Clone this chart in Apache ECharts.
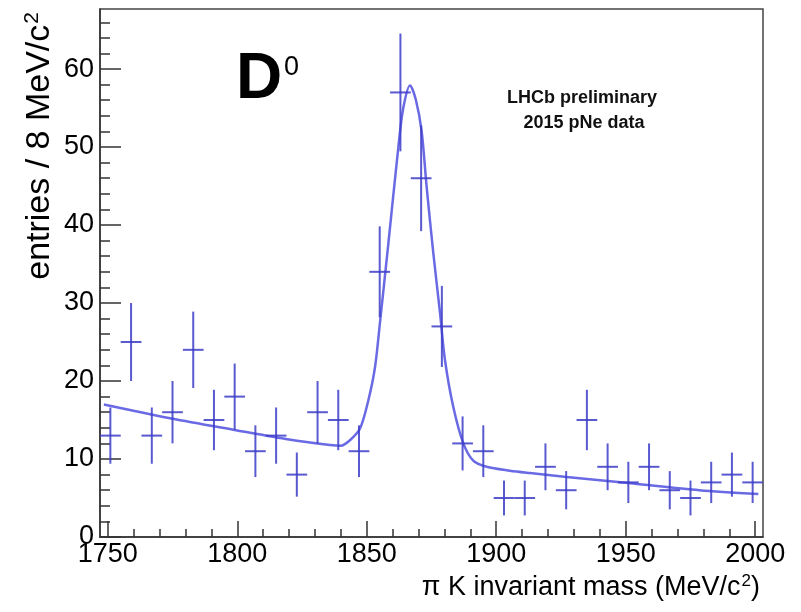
<!DOCTYPE html>
<html>
<head>
<meta charset="utf-8">
<script src="https://cdn.jsdelivr.net/npm/echarts@6/dist/echarts.min.js"></script>
<style>
  html, body { margin: 0; padding: 0; background: #fff; }
  #main { width: 801px; height: 612px; }
</style>
</head>
<body>
<div id="main"></div>
<script>
// bin centres (MeV/c2), 8 MeV wide bins
const binCenters = [1751, 1759, 1767, 1775, 1783, 1791, 1799, 1807, 1815, 1823, 1831, 1839,
  1847, 1855, 1863, 1871, 1879, 1887, 1895, 1903, 1911, 1919, 1927, 1935,
  1943, 1951, 1959, 1967, 1975, 1983, 1991, 1999];
// entries per bin
const counts = [13, 25, 13, 16, 24, 15, 18, 11, 13, 8, 16, 15,
  11, 34, 57, 46, 27, 12, 11, 5, 5, 9, 6, 15,
  9, 7, 9, 6, 5, 7, 8, 7];
const binHalfWidth = 4;

// fit curve
const fitMass = [1748.5, 1774.6, 1799.5, 1820, 1835.8, 1840, 1843.5, 1847.4, 1850.6, 1853.2,
  1855.1, 1858.3, 1862.2, 1864.1, 1866.7, 1869.0, 1871.2, 1873.1, 1875.7, 1878.3,
  1880.2, 1883.4, 1887.3, 1891.1, 1896.3, 1905.3, 1913.0, 1927.2, 1952.9, 1978.4, 2001.2];
const fitValue = [17.0, 15.2, 13.7, 12.5, 11.8, 11.7, 12.4, 13.9, 17.5, 21.8,
  27.5, 37.5, 50.0, 55.0, 57.9, 56.0, 52.0, 45.0, 36.4, 28.7,
  22.7, 16.7, 12.0, 9.8, 9.0, 8.5, 8.2, 7.7, 6.85, 6.0, 5.5];

const xMajor = [1750, 1800, 1850, 1900, 1950, 2000];
const xMinor = [1760, 1770, 1780, 1790, 1810, 1820, 1830, 1840, 1860, 1870, 1880, 1890,
  1910, 1920, 1930, 1940, 1960, 1970, 1980, 1990];
const yMajor = [0, 10, 20, 30, 40, 50, 60];
const yMinor = [2, 4, 6, 8, 12, 14, 16, 18, 22, 24, 26, 28, 32, 34, 36, 38,
  42, 44, 46, 48, 52, 54, 56, 58, 62, 64, 66];

const xMin = 1747, xMax = 2003, yMax = 67.7;
const markColor = "rgba(60, 60, 200, 0.85)";
const fontFamily = "Liberation Sans, Arial, sans-serif";

let myChart = echarts.init(document.getElementById("main"));
myChart.setOption({
  backgroundColor: "#fff",
  animation: false,
  grid: {
    left: 100, right: 38, top: 9, bottom: 75,
    show: true,
    borderColor: "#444",
    borderWidth: 1.5,
  },
  xAxis: [
    {
      type: "value", min: xMin, max: xMax,
      axisLine: { show: true, lineStyle: { color: "#333", width: 1.5 } },
      axisTick: { show: true, inside: true, length: 16, customValues: xMajor, lineStyle: { color: "#333", width: 1.5 } },
      axisLabel: {
        customValues: xMajor, fontSize: 27, color: "#000", margin: 4, fontFamily: fontFamily,
        formatter: (v) => String(v),
      },
      splitLine: { show: false },
      name: "{t|π K invariant mass (MeV/c}{s|2}{t|)}",
      nameLocation: "end",
      nameGap: -3,
      nameTextStyle: {
        align: "right", verticalAlign: "top", padding: [36, 0, 0, 0],
        rich: {
          t: { fontSize: 27, color: "#000", fontFamily: fontFamily },
          s: { fontSize: 17, color: "#000", fontFamily: fontFamily, padding: [0, 0, 12, 1] },
        },
      },
    },
    {
      type: "value", min: xMin, max: xMax, position: "bottom",
      axisLine: { show: false },
      axisTick: { show: true, inside: true, length: 8, customValues: xMinor, lineStyle: { color: "#333", width: 1.5 } },
      axisLabel: { show: false },
      splitLine: { show: false },
    },
  ],
  yAxis: [
    {
      type: "value", min: 0, max: yMax,
      axisLine: { show: true, lineStyle: { color: "#333", width: 1.5 } },
      axisTick: { show: true, inside: true, length: 21, customValues: yMajor, lineStyle: { color: "#333", width: 1.5 } },
      axisLabel: { customValues: yMajor, fontSize: 27, color: "#000", margin: 6, fontFamily: fontFamily },
      splitLine: { show: false },
    },
    {
      type: "value", min: 0, max: yMax, position: "left",
      axisLine: { show: false },
      axisTick: { show: true, inside: true, length: 10, customValues: yMinor, lineStyle: { color: "#333", width: 1.5 } },
      axisLabel: { show: false },
      splitLine: { show: false },
    },
  ],
  graphic: [
    {
      type: "text", x: 40, y: 12, rotation: Math.PI / 2,
      style: {
        text: "{t|entries / 8 MeV/c}{s|2}",
        align: "right", verticalAlign: "middle",
        rich: {
          t: { fontSize: 34, fontFamily: fontFamily, fill: "#000" },
          s: { fontSize: 21, fontFamily: fontFamily, fill: "#000", padding: [0, 0, 16, 1] },
        },
      },
    },
    {
      type: "text", x: 236, y: 80,
      style: { text: "D", font: "bold 64px " + fontFamily, fill: "#000", verticalAlign: "middle" },
    },
    {
      type: "text", x: 284, y: 54,
      style: { text: "0", font: "27px " + fontFamily, fill: "#000", verticalAlign: "top" },
    },
    {
      type: "text", x: 582, y: 98,
      style: { text: "LHCb preliminary", font: "bold 18px " + fontFamily, fill: "#111", align: "center", verticalAlign: "middle" },
    },
    {
      type: "text", x: 584, y: 123,
      style: { text: "2015 pNe data", font: "bold 18px " + fontFamily, fill: "#111", align: "center", verticalAlign: "middle" },
    },
  ],
  series: [
    {
      name: "fit",
      type: "line",
      data: fitMass.map((m, i) => [m, fitValue[i]]),
      showSymbol: false,
      smooth: 0.3,
      lineStyle: { color: "rgba(90, 90, 225, 0.9)", width: 2.5 },
      z: 3,
    },
    {
      name: "data",
      type: "custom",
      data: binCenters.map((m, i) => [m, counts[i]]),
      renderItem: function (params, api) {
        const x = api.value(0);
        const y = api.value(1);
        const err = Math.sqrt(y);
        const left = api.coord([x - binHalfWidth, y]);
        const right = api.coord([x + binHalfWidth, y]);
        const top = api.coord([x, y + err]);
        const bottom = api.coord([x, y - err]);
        const style = { stroke: markColor, lineWidth: 2 };
        return {
          type: "group",
          children: [
            { type: "line", shape: { x1: left[0], y1: left[1], x2: right[0], y2: right[1] }, style: style },
            { type: "line", shape: { x1: top[0], y1: top[1], x2: bottom[0], y2: bottom[1] }, style: style },
          ],
        };
      },
      z: 4,
    },
  ],
});
</script>
</body>
</html>
